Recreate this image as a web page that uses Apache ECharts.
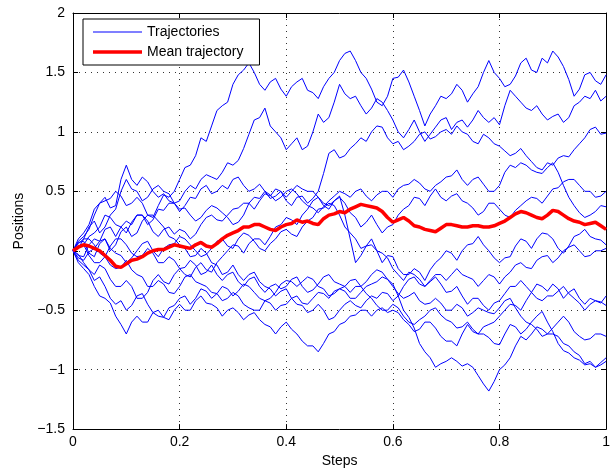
<!DOCTYPE html>
<html>
<head>
<meta charset="utf-8">
<script src="https://cdn.jsdelivr.net/npm/echarts@6/dist/echarts.min.js"></script>
<style>
  html, body { margin: 0; padding: 0; background: #fff; }
  #chart { width: 613px; height: 473px; }
</style>
</head>
<body>
<div id="chart"></div>
<script>
// x positions shared by all trajectories
var steps = [0,0.01,0.02,0.03,0.04,0.05,0.06,0.07,0.08,0.09,
    0.1,0.11,0.12,0.13,0.14,0.15,0.16,0.17,0.18,0.19,
    0.2,0.21,0.22,0.23,0.24,0.25,0.26,0.27,0.28,0.29,
    0.3,0.31,0.32,0.33,0.34,0.35,0.36,0.37,0.38,0.39,
    0.4,0.41,0.42,0.43,0.44,0.45,0.46,0.47,0.48,0.49,
    0.5,0.51,0.52,0.53,0.54,0.55,0.56,0.57,0.58,0.59,
    0.6,0.61,0.62,0.63,0.64,0.65,0.66,0.67,0.68,0.69,
    0.7,0.71,0.72,0.73,0.74,0.75,0.76,0.77,0.78,0.79,
    0.8,0.81,0.82,0.83,0.84,0.85,0.86,0.87,0.88,0.89,
    0.9,0.91,0.92,0.93,0.94,0.95,0.96,0.97,0.98,0.99,
    1];

// blue trajectories
var trajA = [0,0.07,0.08,-0.02,-0.05,0.06,0.1,0.0,0.05,0.16,
    0.2,0.12,0.15,0.25,0.3,0.28,0.38,0.47,0.45,0.5,
    0.6,0.7,0.72,0.8,0.95,0.92,1.05,1.18,1.22,1.25,
    1.4,1.48,1.52,1.58,1.5,1.4,1.35,1.42,1.45,1.36,
    1.3,1.38,1.42,1.45,1.35,1.33,1.28,1.38,1.45,1.5,
    1.6,1.66,1.68,1.6,1.5,1.45,1.36,1.25,1.22,1.3,
    1.45,1.46,1.52,1.42,1.3,1.18,1.05,1.15,1.22,1.3,
    1.28,1.32,1.4,1.35,1.25,1.32,1.38,1.5,1.6,1.5,
    1.45,1.38,1.4,1.47,1.58,1.62,1.52,1.5,1.62,1.58,
    1.68,1.63,1.55,1.44,1.3,1.36,1.48,1.5,1.43,1.4,
    1.48];
var trajB = [0,0.02,0.1,0.2,0.25,0.15,0.2,0.3,0.35,0.5,
    0.6,0.52,0.5,0.42,0.45,0.52,0.55,0.5,0.48,0.4,
    0.42,0.5,0.55,0.52,0.6,0.64,0.62,0.6,0.66,0.74,
    0.72,0.76,0.86,0.98,1.1,1.12,1.2,1.05,1.0,0.95,
    0.85,0.9,0.95,0.85,0.88,1.0,1.15,1.08,1.12,1.25,
    1.4,1.32,1.28,1.3,1.22,1.15,1.2,1.28,1.25,1.18,
    1.1,1.0,0.95,1.02,1.1,1.0,0.92,0.98,1.04,1.1,
    1.12,1.02,1.08,1.1,1.04,1.1,1.18,1.12,1.08,1.12,
    1.06,1.22,1.35,1.3,1.25,1.2,1.18,1.22,1.15,1.1,
    1.13,1.15,1.08,1.12,1.22,1.25,1.3,1.28,1.35,1.26,
    1.3];
var trajC = [0,-0.04,-0.05,0.05,0.1,0.08,0.18,0.2,0.12,0.2,
    0.25,0.22,0.3,0.3,0.22,0.26,0.35,0.34,0.4,0.4,
    0.33,0.38,0.45,0.44,0.52,0.55,0.48,0.5,0.55,0.52,
    0.6,0.62,0.55,0.5,0.52,0.56,0.5,0.44,0.46,0.5,
    0.42,0.38,0.45,0.46,0.4,0.44,0.5,0.65,0.82,0.85,
    0.78,0.8,0.86,0.9,0.95,0.92,1.0,1.05,1.04,0.95,
    0.9,0.92,0.85,0.88,0.92,0.98,1.0,0.94,0.96,1.0,
    1.02,0.98,1.05,1.0,0.98,0.92,0.9,0.98,0.95,0.9,
    0.88,0.84,0.8,0.82,0.86,0.8,0.75,0.7,0.68,0.74,
    0.72,0.78,0.8,0.79,0.85,0.9,0.95,1.02,1.04,0.98,
    0.99];
var trajD = [0,0.08,0.12,0.18,0.3,0.4,0.45,0.36,0.38,0.6,
    0.72,0.6,0.55,0.62,0.58,0.5,0.45,0.48,0.42,0.4,
    0.35,0.36,0.3,0.25,0.28,0.34,0.38,0.36,0.32,0.28,
    0.22,0.24,0.3,0.4,0.45,0.44,0.5,0.47,0.42,0.45,
    0.5,0.52,0.48,0.42,0.38,0.36,0.32,0.37,0.42,0.46,
    0.5,0.48,0.45,0.5,0.52,0.46,0.42,0.47,0.5,0.5,
    0.45,0.52,0.55,0.56,0.6,0.57,0.52,0.5,0.55,0.58,
    0.62,0.63,0.68,0.6,0.55,0.6,0.62,0.56,0.5,0.5,
    0.55,0.66,0.72,0.7,0.74,0.72,0.68,0.66,0.65,0.7,
    0.74,0.66,0.55,0.45,0.38,0.32,0.28,0.3,0.33,0.38,
    0.37];
var trajK = [0,0.04,0.05,0.12,0.15,0.2,0.3,0.28,0.22,0.2,
    0.15,0.24,0.3,0.3,0.25,0.16,0.12,0.18,0.2,0.14,
    0.18,0.16,0.1,0.14,0.22,0.28,0.3,0.26,0.25,0.3,
    0.35,0.36,0.4,0.4,0.35,0.42,0.48,0.46,0.52,0.5,
    0.45,0.5,0.55,0.52,0.5,0.5,0.45,0.4,0.38,0.42,
    0.45,0.4,0.32,0.28,0.2,0.24,0.3,0.22,0.15,0.2,
    0.22,0.3,0.35,0.38,0.45,0.44,0.38,0.46,0.52,0.45,
    0.42,0.46,0.48,0.42,0.4,0.36,0.3,0.33,0.4,0.4,
    0.35,0.3,0.28,0.34,0.38,0.42,0.45,0.44,0.4,0.46,
    0.52,0.53,0.58,0.6,0.6,0.55,0.5,0.5,0.45,0.46,
    0.5];
var trajE = [0,-0.06,-0.08,-0.01,0.02,0.08,0.1,0.02,-0.02,-0.04,
    -0.1,-0.06,0,0.06,0.08,0.0,-0.05,0.02,0.05,0.06,
    0.12,0.1,0.05,0.0,-0.05,-0.03,0.02,0.08,0.1,0.04,
    0.02,0.1,0.15,0.13,0.08,0.02,0,0.06,0.1,0.16,
    0.18,0.14,0.12,0.2,0.25,0.28,0.35,0.36,0.4,0.38,
    0.3,0.2,0.15,0.1,0.02,0.04,0.1,0.0,-0.1,-0.04,
    -0.05,-0.15,-0.2,-0.2,-0.15,-0.18,-0.25,-0.16,-0.1,-0.06,
    0,-0.02,-0.08,0.0,0.05,0.06,0.12,0.05,0,-0.06,
    -0.1,-0.06,-0.05,0.04,0.1,0.08,0.02,0.1,0.15,0.14,
    0.1,0.02,-0.02,0.04,0.12,0.14,0.18,0.12,0.1,0.09,
    0.05];
var trajL = [0,0.1,0.15,0.22,0.35,0.4,0.42,0.44,0.5,0.46,
    0.38,0.4,0.45,0.4,0.3,0.3,0.25,0.2,0.12,0.1,
    0.05,0.02,-0.05,-0.04,0.02,-0.02,-0.1,-0.12,-0.2,-0.18,
    -0.12,-0.2,-0.25,-0.2,-0.18,-0.26,-0.3,-0.32,-0.38,-0.34,
    -0.32,-0.4,-0.45,-0.46,-0.52,-0.5,-0.45,-0.5,-0.58,-0.56,
    -0.5,-0.45,-0.42,-0.46,-0.48,-0.42,-0.38,-0.4,-0.35,-0.36,
    -0.42,-0.38,-0.3,-0.24,-0.22,-0.28,-0.3,-0.25,-0.2,-0.2,
    -0.25,-0.2,-0.15,-0.2,-0.22,-0.24,-0.3,-0.25,-0.2,-0.22,
    -0.28,-0.22,-0.18,-0.12,-0.1,-0.14,-0.15,-0.08,-0.05,-0.04,
    -0.1,-0.06,0,0.03,0.05,0.0,-0.05,-0.04,0,0.0,
    0.02];
var trajF = [0,-0.03,-0.1,-0.16,-0.2,-0.12,-0.15,-0.24,-0.3,-0.3,
    -0.25,-0.3,-0.4,-0.4,-0.35,-0.25,-0.2,-0.26,-0.28,-0.2,
    -0.15,-0.2,-0.22,-0.14,-0.1,-0.16,-0.18,-0.1,-0.05,0.0,
    0.05,0.04,-0.02,0.06,0.1,0.1,0.05,0.12,0.2,0.22,
    0.28,0.26,0.22,0.3,0.35,0.42,0.45,0.38,0.35,0.42,
    0.46,0.3,0.1,-0.1,-0.04,0.04,0.05,0.0,-0.02,-0.06,
    -0.15,-0.2,-0.25,-0.18,-0.2,-0.24,-0.3,-0.26,-0.22,-0.28,
    -0.35,-0.34,-0.3,-0.38,-0.45,-0.4,-0.4,-0.46,-0.5,-0.44,
    -0.42,-0.36,-0.3,-0.3,-0.25,-0.3,-0.35,-0.28,-0.3,-0.34,
    -0.28,-0.32,-0.4,-0.35,-0.32,-0.4,-0.45,-0.4,-0.42,-0.44,
    -0.38];
var trajG = [0,0.04,0.05,-0.04,-0.1,-0.1,-0.05,0.04,0.1,0.1,
    0.05,-0.02,-0.05,-0.04,0.02,-0.02,-0.1,-0.1,-0.05,-0.08,
    -0.15,-0.14,-0.08,-0.12,-0.2,-0.18,-0.12,-0.2,-0.25,-0.2,
    -0.18,-0.26,-0.3,-0.24,-0.22,-0.3,-0.35,-0.3,-0.28,-0.32,
    -0.3,-0.24,-0.22,-0.3,-0.35,-0.33,-0.28,-0.22,-0.2,-0.26,
    -0.28,-0.3,-0.35,-0.3,-0.3,-0.36,-0.4,-0.46,-0.5,-0.5,
    -0.45,-0.48,-0.55,-0.6,-0.62,-0.58,-0.55,-0.5,-0.48,-0.54,
    -0.58,-0.6,-0.65,-0.64,-0.6,-0.66,-0.7,-0.64,-0.62,-0.6,
    -0.55,-0.5,-0.45,-0.46,-0.5,-0.42,-0.35,-0.4,-0.42,-0.38,
    -0.38,-0.34,-0.3,-0.36,-0.4,-0.44,-0.5,-0.45,-0.42,-0.43,
    -0.46];
var trajH = [0,-0.08,-0.12,-0.16,-0.25,-0.22,-0.3,-0.4,-0.45,-0.42,
    -0.5,-0.46,-0.38,-0.36,-0.45,-0.52,-0.55,-0.56,-0.48,-0.46,
    -0.4,-0.38,-0.45,-0.4,-0.32,-0.34,-0.4,-0.36,-0.3,-0.32,
    -0.38,-0.34,-0.28,-0.3,-0.35,-0.4,-0.42,-0.4,-0.35,-0.28,
    -0.25,-0.26,-0.3,-0.26,-0.22,-0.24,-0.3,-0.32,-0.38,-0.36,
    -0.32,-0.34,-0.4,-0.4,-0.35,-0.3,-0.28,-0.26,-0.22,-0.24,
    -0.3,-0.36,-0.4,-0.38,-0.35,-0.42,-0.45,-0.44,-0.4,-0.44,
    -0.5,-0.5,-0.45,-0.48,-0.55,-0.52,-0.48,-0.5,-0.52,-0.53,
    -0.48,-0.42,-0.4,-0.48,-0.55,-0.6,-0.62,-0.66,-0.72,-0.7,
    -0.65,-0.6,-0.55,-0.6,-0.68,-0.72,-0.75,-0.74,-0.7,-0.7,
    -0.72];
var trajI = [0,0.06,0.1,0.1,0.05,-0.02,-0.05,-0.12,-0.15,-0.14,
    -0.08,-0.16,-0.2,-0.22,-0.3,-0.3,-0.25,-0.28,-0.35,-0.36,
    -0.3,-0.22,-0.2,-0.26,-0.28,-0.3,-0.35,-0.36,-0.42,-0.4,
    -0.35,-0.38,-0.45,-0.48,-0.5,-0.5,-0.42,-0.44,-0.5,-0.46,
    -0.45,-0.4,-0.38,-0.44,-0.45,-0.4,-0.35,-0.36,-0.4,-0.34,
    -0.32,-0.3,-0.25,-0.24,-0.3,-0.26,-0.2,-0.16,-0.18,-0.24,
    -0.28,-0.38,-0.5,-0.56,-0.65,-0.78,-0.85,-0.9,-0.98,-0.95,
    -0.93,-0.9,-0.93,-0.97,-0.95,-0.98,-1.05,-1.12,-1.18,-1.1,
    -1.0,-0.96,-0.9,-0.8,-0.72,-0.75,-0.7,-0.64,-0.66,-0.7,
    -0.7,-0.72,-0.78,-0.8,-0.85,-0.88,-0.95,-0.93,-0.98,-0.94,
    -0.9];
var trajJ = [0,-0.1,-0.15,-0.2,-0.3,-0.38,-0.4,-0.44,-0.55,-0.62,
    -0.7,-0.6,-0.55,-0.6,-0.6,-0.52,-0.5,-0.56,-0.58,-0.5,
    -0.45,-0.5,-0.5,-0.42,-0.38,-0.44,-0.45,-0.48,-0.55,-0.5,
    -0.48,-0.52,-0.58,-0.54,-0.52,-0.58,-0.62,-0.64,-0.7,-0.64,
    -0.6,-0.66,-0.7,-0.76,-0.8,-0.8,-0.85,-0.78,-0.7,-0.68,
    -0.62,-0.6,-0.55,-0.54,-0.5,-0.5,-0.55,-0.5,-0.48,-0.52,
    -0.5,-0.52,-0.58,-0.62,-0.68,-0.66,-0.6,-0.6,-0.65,-0.72,
    -0.76,-0.76,-0.8,-0.7,-0.62,-0.68,-0.7,-0.7,-0.73,-0.78,
    -0.79,-0.7,-0.62,-0.64,-0.7,-0.66,-0.6,-0.55,-0.51,-0.6,
    -0.68,-0.78,-0.84,-0.86,-0.9,-0.92,-0.96,-0.95,-0.98,-0.96,
    -0.93];

// red mean trajectory
var meanTraj = [0,0.03,0.05,0.04,0.02,0.0,-0.04,-0.08,-0.13,-0.14,
    -0.11,-0.08,-0.07,-0.05,-0.02,0.0,0.01,0.01,0.03,0.05,
    0.04,0.03,0.02,0.05,0.07,0.04,0.03,0.06,0.1,0.13,
    0.15,0.17,0.2,0.2,0.22,0.22,0.2,0.18,0.17,0.2,
    0.22,0.23,0.26,0.24,0.25,0.23,0.22,0.27,0.3,0.31,
    0.33,0.32,0.35,0.37,0.39,0.38,0.37,0.36,0.33,0.28,
    0.24,0.26,0.28,0.25,0.21,0.2,0.18,0.17,0.16,0.19,
    0.22,0.22,0.21,0.2,0.2,0.21,0.21,0.2,0.2,0.21,
    0.23,0.25,0.28,0.31,0.33,0.32,0.3,0.28,0.27,0.3,
    0.34,0.33,0.3,0.27,0.25,0.24,0.22,0.23,0.24,0.21,
    0.18];

var allTraj = [trajA, trajB, trajC, trajD, trajK, trajE, trajL, trajF, trajG, trajH, trajI, trajJ];

function pairs(ys) {
    return steps.map(function (x, i) { return [x, ys[i]]; });
}
function tickText(v) {
    return String(v).replace('-', '\u2212');
}

var chart = echarts.init(document.getElementById('chart'), null, {renderer: 'canvas'});

var series = allTraj.map(function (t) {
    return {
        name: 'Trajectories',
        type: 'line',
        data: pairs(t),
        symbol: 'none',
        lineStyle: {color: '#0000ff', width: 1},
        itemStyle: {color: '#0000ff'},
        z: 2
    };
});
series.push({
    name: 'Mean trajectory',
    type: 'line',
    data: pairs(meanTraj),
    symbol: 'none',
    lineStyle: {color: '#ff0000', width: 3.5},
    itemStyle: {color: '#ff0000'},
    z: 3
});

var dotted = {show: true, lineStyle: {color: '#333', type: [1, 5], width: 1}};
var font = 'Liberation Sans';
var frame = {show: true, onZero: false, lineStyle: {color: '#000', width: 1}};
var innerTick = {show: true, inside: true, length: 5, lineStyle: {color: '#000'}};

var option = {
    animation: false,
    backgroundColor: '#fff',
    grid: {left: 73, right: 6, top: 13, bottom: 42},
    legend: {
        data: [
            {name: 'Trajectories', icon: 'path://M0,0H49V1H0Z'},
            {name: 'Mean trajectory', icon: 'path://M0,0H49V3.5H0Z'}
        ],
        orient: 'vertical',
        left: 83,
        top: 19,
        backgroundColor: '#fff',
        borderColor: '#000',
        borderWidth: 1,
        borderRadius: 0,
        padding: [6, 16, 6, 10],
        itemWidth: 49,
        itemHeight: 14,
        itemGap: 6,
        textStyle: {fontFamily: font, fontSize: 14, color: '#000'}
    },
    xAxis: [{
        type: 'value',
        min: 0, max: 1, interval: 0.2,
        name: 'Steps',
        nameLocation: 'middle',
        nameGap: 24,
        nameTextStyle: {fontFamily: font, fontSize: 14, color: '#000'},
        axisLine: frame,
        axisTick: innerTick,
        axisLabel: {fontFamily: font, fontSize: 14, color: '#000', margin: 6, formatter: tickText},
        splitLine: dotted
    }, {
        type: 'value', position: 'top',
        min: 0, max: 1, interval: 0.2,
        axisLine: frame,
        axisTick: innerTick,
        axisLabel: {show: false},
        splitLine: {show: false}
    }],
    yAxis: [{
        type: 'value',
        min: -1.5, max: 2, interval: 0.5,
        name: 'Positions',
        nameLocation: 'middle',
        nameGap: 44,
        nameTextStyle: {fontFamily: font, fontSize: 14, color: '#000'},
        axisLine: frame,
        axisTick: innerTick,
        axisLabel: {fontFamily: font, fontSize: 14, color: '#000', margin: 8, formatter: tickText},
        splitLine: dotted
    }, {
        type: 'value', position: 'right',
        min: -1.5, max: 2, interval: 0.5,
        axisLine: frame,
        axisTick: innerTick,
        axisLabel: {show: false},
        splitLine: {show: false}
    }],
    series: series
};
chart.setOption(option);
</script>
</body>
</html>
